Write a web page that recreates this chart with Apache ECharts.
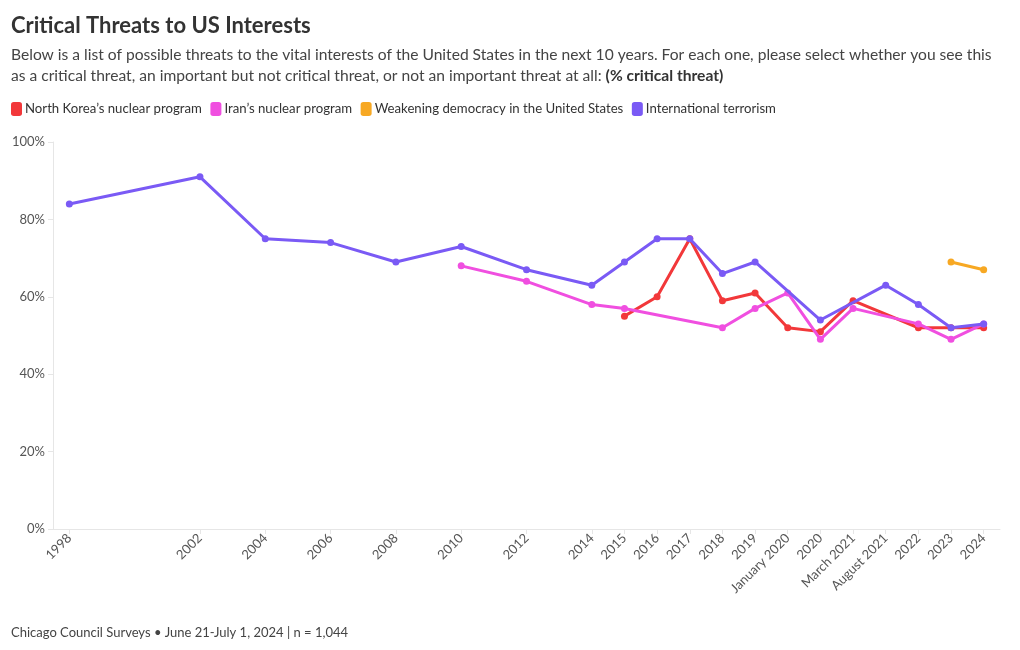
<!DOCTYPE html>
<html>
<head>
<meta charset="utf-8">
<script src="https://cdn.jsdelivr.net/npm/echarts@6/dist/echarts.min.js"></script>
<style>
html,body{margin:0;padding:0;background:#fff;}
#chart{width:1020px;height:650px;}
</style>
</head>
<body>
<div id="chart"></div>
<script>
const categories = ['1998','','','','2002','','2004','','2006','','2008','','2010','','2012','','2014','2015','2016','2017','2018','2019','January 2020','2020','March 2021','August 2021','2022','2023','2024'];
const northKorea = [null,null,null,null,null,null,null,null,null,null,null,null,null,null,null,null,null,55,60,75,59,61,52,51,59,null,52,52,52];
const iran = [null,null,null,null,null,null,null,null,null,null,null,null,68,null,64,null,58,57,null,null,52,57,61,49,57,null,53,49,53];
const democracy = [null,null,null,null,null,null,null,null,null,null,null,null,null,null,null,null,null,null,null,null,null,null,null,null,null,null,null,69,67];
const terrorism = [84,null,null,null,91,null,75,null,74,null,69,null,73,null,67,null,63,69,75,75,66,69,null,54,null,63,58,52,53];
const seriesNames = ['North Korea’s nuclear program','Iran’s nuclear program','Weakening democracy in the United States','International terrorism'];
const colors = ['#f2383a','#f04fe0','#f7a823','#7a5af5'];
const yTicks = [0,20,40,60,80,100];

const FONT = 'Lato, "Noto Sans", sans-serif';
const chart = echarts.init(document.getElementById('chart'), null, {renderer:'canvas'});
const allData = [northKorea, iran, democracy, terrorism];
const option = {
  animation: false,
  backgroundColor: '#fff',
  textStyle: {fontFamily: FONT},
  color: colors,
  title: {
    left: 11, top: 15, padding: 0,
    text: 'Critical Threats to US Interests',
    textStyle: {fontFamily: FONT, fontSize: 22, fontWeight: 'bold', color: '#333'},
    subtext: '{n|Below is a list of possible threats to the vital interests of the United States in the next 10 years. For each one, please select whether you see this}\n{n|as a critical threat, an important but not critical threat, or not an important threat at all: }{b|(% critical threat)}',
    itemGap: 7,
    subtextStyle: {
      fontFamily: FONT, fontSize: 15.6, color: '#444', lineHeight: 21,
      rich: {
        n: {fontFamily: FONT, fontSize: 15.6, color: '#444', lineHeight: 21},
        b: {fontFamily: FONT, fontSize: 15.6, color: '#333', fontWeight: 'bold', lineHeight: 21}
      }
    }
  },
  legend: {
    left: 6, top: 97,
    icon: 'roundRect',
    itemWidth: 11, itemHeight: 14,
    itemGap: 8.5,
    textStyle: {fontFamily: FONT, fontSize: 13.2, color: '#333', padding: [0,0,0,-2]},
    data: seriesNames
  },
  grid: {left: 53, right: 20, top: 142, bottom: 121, containLabel: false},
  xAxis: {
    type: 'category',
    data: categories,
    boundaryGap: true,
    axisLine: {show: true, lineStyle: {color: '#e6e6e6'}},
    axisTick: {show: true, alignWithLabel: true, length: 5, lineStyle: {color: '#e6e6e6'},
      interval: function(i, v){ return v !== ''; }},
    axisLabel: {interval: 0, rotate: 45, fontFamily: FONT, fontSize: 13, color: '#555', margin: 7},
    splitLine: {show: false}
  },
  yAxis: {
    type: 'value', min: yTicks[0], max: yTicks[yTicks.length-1], interval: 20,
    axisLine: {show: true, lineStyle: {color: '#e6e6e6'}},
    axisTick: {show: true, length: 5, lineStyle: {color: '#e6e6e6'}},
    axisLabel: {formatter: '{value}%', fontFamily: FONT, fontSize: 13, color: '#555', margin: 8},
    splitLine: {show: false}
  },
  graphic: [{
    type: 'text', left: 11, top: 626,
    style: {text: 'Chicago Council Surveys • June 21-July 1, 2024 | n = 1,044', font: '13px ' + FONT, fill: '#444'}
  }],
  series: seriesNames.map((n, i) => ({
    name: n,
    type: 'line',
    data: allData[i],
    connectNulls: true,
    symbol: 'circle',
    symbolSize: 7,
    lineStyle: {width: 3, color: colors[i]},
    itemStyle: {color: colors[i]},
    z: 2 + i
  }))
};
chart.setOption(option);
</script>
</body>
</html>
